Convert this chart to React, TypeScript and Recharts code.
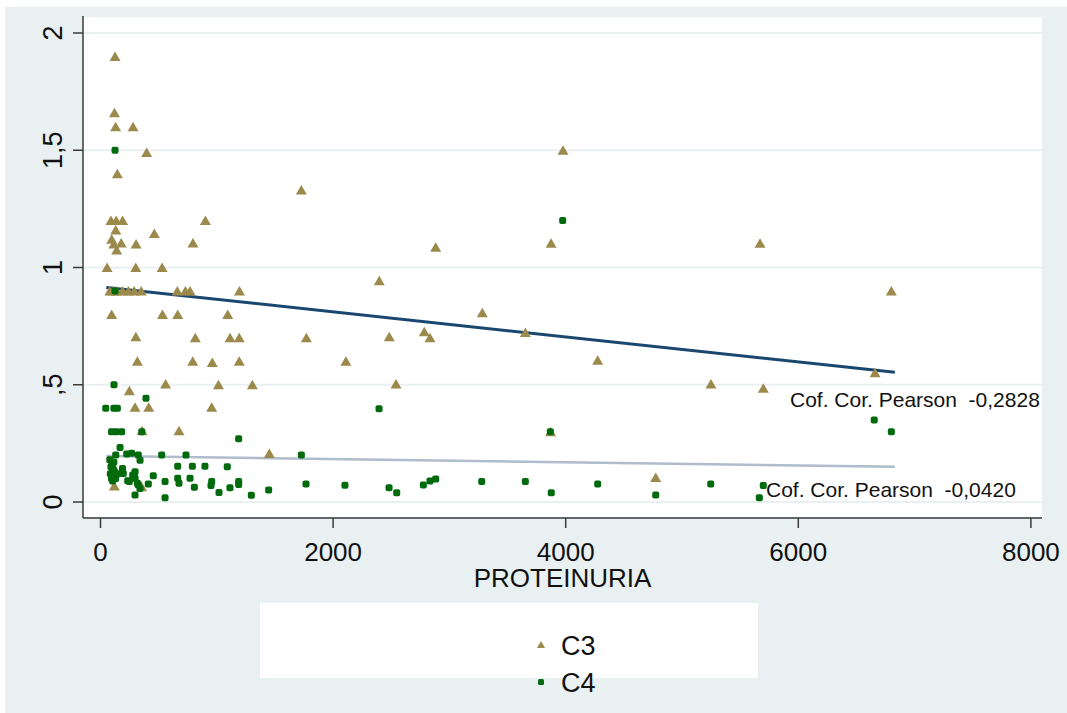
import React from 'react';
import { ScatterChart, Scatter, XAxis, YAxis, CartesianGrid } from 'recharts';

const xTicks = [0, 2000, 4000, 6000, 8000];
const yTicks = [0, 0.5, 1, 1.5, 2];
const yTickLabels: Record<string, string> = { '0': '0', '0.5': ',5', '1': '1', '1.5': '1,5', '2': '2' };

// C3 points: [PROTEINURIA, value]
const c3Points: [number, number][] = [
  [125, 1.9], [120, 1.66], [130, 1.6], [280, 1.6], [397, 1.49], [145, 1.4], [1727, 1.33], [3977, 1.5],
  [90, 1.2], [135, 1.2], [190, 1.2], [902, 1.2],
  [131, 1.16], [463, 1.145], [96, 1.12], [115, 1.1], [178, 1.105], [306, 1.1], [795, 1.105], [139, 1.075],
  [57, 1.0], [303, 1.0], [530, 1.0],
  [2882, 1.086], [3874, 1.103], [5671, 1.103], [2397, 0.943],
  [80, 0.9], [110, 0.9], [140, 0.9], [190, 0.9], [240, 0.9], [290, 0.9], [350, 0.9], [660, 0.9], [730, 0.9], [770, 0.9], [1195, 0.9], [6800, 0.9],
  [96, 0.8], [533, 0.8], [664, 0.8], [1094, 0.8], [3283, 0.807],
  [304, 0.705], [815, 0.7], [1114, 0.7], [1193, 0.7], [1770, 0.7], [2483, 0.705], [2784, 0.726], [2833, 0.7], [3653, 0.723],
  [317, 0.6], [793, 0.6], [961, 0.595], [1193, 0.6], [2110, 0.6], [4275, 0.605],
  [560, 0.503], [1014, 0.5], [1306, 0.5], [2541, 0.503], [5249, 0.503], [5699, 0.485], [6660, 0.551],
  [248, 0.474],
  [297, 0.404], [415, 0.404], [956, 0.404],
  [358, 0.304], [675, 0.304], [3870, 0.3],
  [1452, 0.207],
  [4774, 0.104],
  [119, 0.068], [354, 0.065],
];

// C4 points: [PROTEINURIA, value]
const c4Points: [number, number][] = [
  [125, 1.5], [3974, 1.2], [125, 0.9], [116, 0.5], [391, 0.442], [45, 0.4], [115, 0.4], [145, 0.4], [2395, 0.398],
  [95, 0.3], [135, 0.3], [182, 0.3], [355, 0.3], [1188, 0.27], [3868, 0.3], [6653, 0.35], [6800, 0.3],
  [168, 0.232], [131, 0.2], [225, 0.205], [268, 0.208], [325, 0.2], [526, 0.2], [735, 0.2], [1727, 0.2], [340, 0.178],
  [80, 0.18], [100, 0.165], [90, 0.15], [110, 0.14], [120, 0.13], [85, 0.12], [100, 0.11], [130, 0.1], [95, 0.1], [150, 0.12], [115, 0.17], [105, 0.09],
  [189, 0.143], [277, 0.115], [196, 0.122],
  [297, 0.129], [454, 0.112], [234, 0.091], [297, 0.101], [411, 0.077], [325, 0.072], [340, 0.058], [297, 0.03], [555, 0.087], [555, 0.018], [248, 0.087], [317, 0.08],
  [664, 0.153], [790, 0.153], [898, 0.153], [1090, 0.15],
  [664, 0.101], [675, 0.08], [770, 0.101], [807, 0.063], [956, 0.087], [950, 0.07], [1019, 0.041], [1113, 0.061], [1188, 0.087], [1188, 0.075], [1297, 0.029], [1446, 0.051], [1767, 0.077], [2102, 0.071],
  [2481, 0.061], [2547, 0.04], [2776, 0.072], [2833, 0.09], [2882, 0.098], [3278, 0.087], [3653, 0.087], [3876, 0.04], [4275, 0.077], [4774, 0.03], [5247, 0.077], [5699, 0.07], [5665, 0.018],
];

// Linear fits
const c3Fit: [number, number][] = [[50, 0.915], [6830, 0.553]];
const c4Fit: [number, number][] = [[50, 0.196], [6830, 0.15]];

const pearsonC3 = 'Cof. Cor. Pearson  -0,2828';
const pearsonC4 = 'Cof. Cor. Pearson  -0,0420';
const xTitle = 'PROTEINURIA';
const legendNames = ['C3', 'C4'];

const toObj = (arr: [number, number][]) => arr.map(([x, y]) => ({ x, y }));

const BG = '#e8f0f2';
const C3_COLOR = '#9c8a4c';
const C4_COLOR = '#006a0c';
const FONT = '"Liberation Sans", Arial, sans-serif';

const Triangle = (props: any) => {
  const { cx, cy } = props;
  if (cx == null || cy == null) return <g />;
  return (
    <polygon
      points={`${cx},${cy - 5} ${cx - 5.5},${cy + 4.5} ${cx + 5.5},${cy + 4.5}`}
      fill={C3_COLOR}
    />
  );
};

const Square = (props: any) => {
  const { cx, cy } = props;
  if (cx == null || cy == null) return <g />;
  return <rect x={cx - 3.5} y={cy - 3.5} width={7} height={7} rx={2} fill={C4_COLOR} />;
};

const NoShape = () => <g />;

const XTick = (props: any) => {
  const { x, y, payload } = props;
  return (
    <text x={x} y={y + 33} textAnchor="middle" fontSize={26} fontFamily={FONT} fill="#111">
      {payload.value}
    </text>
  );
};

const YTick = (props: any) => {
  const { x, y, payload } = props;
  const tx = x - 11;
  const label = yTickLabels[String(payload.value)] ?? String(payload.value);
  return (
    <text
      x={tx}
      y={y}
      transform={`rotate(-90, ${tx}, ${y})`}
      textAnchor="middle"
      fontSize={27}
      fontFamily={FONT}
      fill="#111"
    >
      {label}
    </text>
  );
};

export default function App() {
  const W = 1062;
  const H = 706;
  return (
    <>
      <style>{`html,body{margin:0;padding:0;overflow:hidden;background:#fff;}`}</style>
      <div style={{ position: 'relative', width: W + 20, height: H + 20, marginLeft: 5, marginTop: 7, background: BG }}>
        <ScatterChart width={W} height={H} margin={{ top: 9, right: 25, left: 0, bottom: 135 }}>
          <CartesianGrid
            horizontal={true}
            vertical={false}
            fill="#ffffff"
            stroke={BG}
            strokeWidth={2}
          />
          <XAxis
            type="number"
            dataKey="x"
            domain={[-150.5, 8095.5]}
            ticks={xTicks}
            allowDataOverflow
            height={60}
            tickSize={10}
            tickMargin={0}
            tick={<XTick />}
            axisLine={{ stroke: '#3a3a3a', strokeWidth: 1.5 }}
            tickLine={{ stroke: '#3a3a3a', strokeWidth: 1.5 }}
          />
          <YAxis
            type="number"
            dataKey="y"
            domain={[-0.0682, 2.0725]}
            ticks={yTicks}
            allowDataOverflow
            width={78}
            tickSize={10}
            tickMargin={0}
            tick={<YTick />}
            axisLine={{ stroke: '#3a3a3a', strokeWidth: 1.5 }}
            tickLine={{ stroke: '#3a3a3a', strokeWidth: 1.5 }}
          />
          <Scatter
            name="fitC3"
            data={toObj(c3Fit)}
            line={{ stroke: '#1a476f', strokeWidth: 3 }}
            shape={<NoShape />}
            isAnimationActive={false}
          />
          <Scatter
            name="fitC4"
            data={toObj(c4Fit)}
            line={{ stroke: '#b0bccb', strokeWidth: 2.5 }}
            shape={<NoShape />}
            isAnimationActive={false}
          />
          <Scatter name="C3" data={toObj(c3Points)} shape={<Triangle />} isAnimationActive={false} />
          <Scatter name="C4" data={toObj(c4Points)} shape={<Square />} isAnimationActive={false} />
        </ScatterChart>
        <svg
          width={W}
          height={H}
          style={{ position: 'absolute', left: 0, top: 0, pointerEvents: 'none' }}
        >
          <text x={785} y={400} fontSize={21} fontFamily={FONT} fill="#111" style={{ whiteSpace: 'pre' }} xmlSpace="preserve">
            {pearsonC3}
          </text>
          <text x={761} y={490} fontSize={21} fontFamily={FONT} fill="#111" style={{ whiteSpace: 'pre' }} xmlSpace="preserve">
            {pearsonC4}
          </text>
          <text x={557.5} y={580} textAnchor="middle" fontSize={26} fontFamily={FONT} fill="#111">
            {xTitle}
          </text>
          <rect x={255} y={596} width={498} height={75} fill="#ffffff" />
          <polygon points="536,634 532,641 540,641" fill={C3_COLOR} />
          <text x={556} y={648} fontSize={27} fontFamily={FONT} fill="#111">
            {legendNames[0]}
          </text>
          <rect x={533} y={672} width={6} height={6} rx={1.5} fill={C4_COLOR} />
          <text x={556} y={685} fontSize={27} fontFamily={FONT} fill="#111">
            {legendNames[1]}
          </text>
        </svg>
      </div>
    </>
  );
}
